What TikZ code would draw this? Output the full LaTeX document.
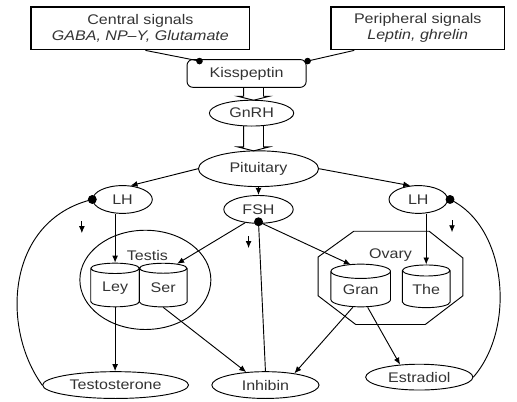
\documentclass[tikz,border=0pt]{standalone}
\usepackage{fontspec}
\setmainfont{Liberation Sans}[FakeStretch=1.15]
\usepackage{tikz}
\usetikzlibrary{calc,shapes.geometric,arrows.meta}

\begin{document}
\begin{tikzpicture}[x=0.03cm,y=-0.03cm,line width=0.8pt,
  font=\fontsize{12}{13.6}\selectfont,text=black!80,
  >={Latex[length=6pt,width=5pt]},
  sigbox/.style={draw,line width=1.3pt,minimum width=6.6cm,minimum height=1.29cm,align=center,inner sep=0pt},
  hormone/.style={draw,ellipse,inner sep=0pt,minimum height=0.84cm},
  cell/.style={draw,cylinder,shape border rotate=90,aspect=0.4,inner sep=0pt,
               minimum width=1.47cm,minimum height=1.32cm},
  dot/.style={circle,fill,inner sep=0pt,minimum size=#1},
  dot/.default=0.27cm]

% Signal boxes on top
\node[sigbox] (central) at (138,28.5) {Central signals\\ \textit{GABA, NP--Y, Glutamate}};
\node[sigbox,minimum width=5.25cm] (periph) at (417.5,28.5) {Peripheral signals\\ \textit{Leptin, ghrelin}};
\node[draw,rounded corners=5pt,minimum width=3.6cm,minimum height=0.84cm] (kiss) at (245,74) {Kisspeptin};

% Hypothalamus and pituitary
\node[hormone,minimum width=2.55cm,minimum height=0.78cm] (gnrh) at (250,114) {GnRH};
\node[hormone,minimum width=3.63cm,minimum height=1.08cm] (pit) at (257,170) {Pituitary};
\node[hormone,minimum width=1.8cm] (lhl) at (120,201) {LH};
\node[hormone,minimum width=2.1cm] (fsh) at (257,211) {FSH};
\node[hormone,minimum width=1.77cm] (lhr) at (418,201) {LH};

% Gonads
\draw (143,282) ellipse [x radius=66,y radius=50];
\node (testis) at (145,257) {Testis};
\node[cell] (ley) at (112.5,290) {Ley};
\node[cell,minimum width=1.44cm] (ser) at (161,290) {Ser};

\draw (353,233) -- (429,233) -- (463,260) -- (463,298) -- (425,327)
  -- (355,327) -- (317,298) -- (317,259) -- cycle;
\node (ovary) at (390,257) {Ovary};
\node[cell,minimum width=1.8cm,minimum height=1.29cm] (gran) at (360,291.5) {Gran};
\node[cell,minimum width=1.44cm,minimum height=1.29cm] (the) at (426,291.5) {The};

% Gonadal hormones
\node[hormone,minimum width=4.41cm,minimum height=0.81cm] (testo) at (113,388) {Testosterone};
\node[hormone,minimum width=3.24cm,minimum height=0.81cm] (inhibin) at (264,388) {Inhibin};
\node[hormone,minimum width=3.24cm,minimum height=0.78cm] (estra) at (419,380) {Estradiol};

% Dots
\node[dot=0.2cm] (kd1) at ($(kiss.north west)+(13,2)$) {};
\node[dot=0.2cm] (kd2) at ($(kiss.north east)+(1,2)$) {};
\node[dot] (lhldot) at (lhl.west) {};
\node[dot] (fshdot) at ($(fsh.south)+(0,-2)$) {};
\node[dot] (lhrdot) at ($(lhr.east)+(2,0)$) {};

\draw (central.south) ++(5,0) -- (kd1.center);
\draw ($(periph.south)+(-64,0)$) -- (kd2.center);

% Hollow arrows
\coordinate (ha1) at (252,88);  \coordinate (hb1) at (252,101);
\coordinate (ha2) at (252,127); \coordinate (hb2) at (252,152);
\foreach \a/\b in {ha1/hb1,ha2/hb2}{
  \draw ($(\a)+(-10,0)$) -- ($(\b)+(-10,-4)$) -- ($(\b)+(-16,-4)$) -- (\b)
    -- ($(\b)+(16,-4)$) -- ($(\b)+(10,-4)$) -- ($(\a)+(10,0)$);
}

% Pituitary outputs
\draw[->] (pit.west) -- (lhl.60);
\draw[->] (pit.east) -- (lhr.120);
\draw[->] (pit.south) -- (fsh.north);

\draw[->] (ley.north |- lhl.south) -- (ley.north);
\draw[->] (fsh.225) -- ($(ser.north)+(14,1)$);
\draw[->] (fshdot.center) -- ($(gran.north)+(-10,1)$);
\draw[->] (the.north |- lhr.south) -- (the.north);

\draw[->] (ley.south) -- (ley.south |- testo.north);
\draw[->] (ser.south) -- (inhibin.146);
\draw[->] ($(gran.south)+(-8,0)$) -- (inhibin.22);
\draw[->] ($(gran.south)+(7,0)$) -- (estra.147);

% Feedback
\draw (testo.west) .. controls (-3,330) and (3,222) .. (lhldot.center);
\draw (inhibin.north) -- (fshdot.center);
\draw (estra.east) .. controls (517,330) and (507,228) .. (lhrdot.center);

% Small arrows
\coordinate (da1) at (79,223);
\coordinate (da2) at (247,238);
\coordinate (da3) at (452,222);
\foreach \c in {da1,da2,da3}
  \draw[->] (\c) -- ++(0,12);

\useasboundingbox (0,0) rectangle (517,405);
\end{tikzpicture}
\end{document}
